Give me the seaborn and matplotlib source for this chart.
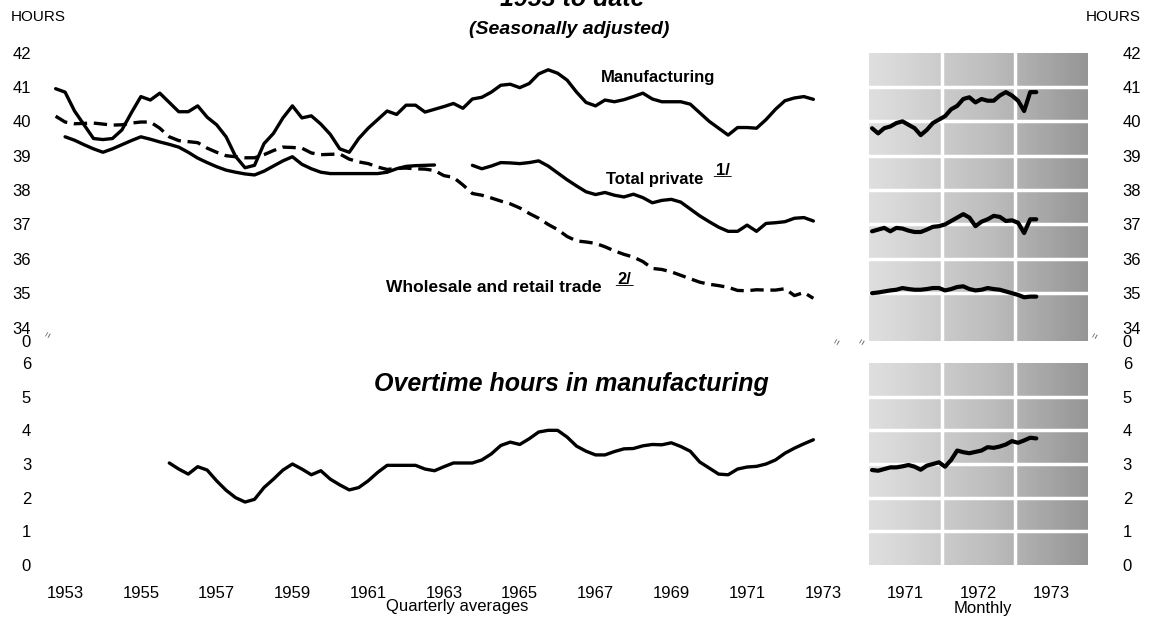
import numpy as np
import pandas as pd
import matplotlib.pyplot as plt
import seaborn as sns

# ---- quarterly averages, 1953 Q1 .. 1973 Q1 (hours) ----
mfg_q = [40.95, 40.85, 40.3,
         39.9, 39.5, 39.47, 39.5,
         39.75, 40.25, 40.72, 40.62,
         40.82, 40.55, 40.28, 40.28,
         40.45, 40.12, 39.9, 39.55,
         38.98, 38.65, 38.72, 39.35,
         39.65, 40.1, 40.45, 40.1,
         40.16, 39.92, 39.62, 39.2,
         39.1, 39.5, 39.8, 40.05,
         40.3, 40.2, 40.47, 40.47,
         40.27, 40.35, 40.43, 40.52,
         40.38, 40.65, 40.7, 40.85,
         41.05, 41.08, 40.98, 41.1,
         41.38, 41.5, 41.4, 41.2,
         40.85, 40.55, 40.45, 40.62,
         40.57, 40.63, 40.72, 40.82,
         40.65, 40.57, 40.57, 40.57,
         40.5, 40.25, 40.0, 39.8,
         39.6, 39.82, 39.82, 39.8,
         40.05, 40.35, 40.6, 40.68,
         40.72, 40.64]

tot_q = [np.nan, 39.55, 39.45,
         39.32, 39.2, 39.1, 39.2,
         39.32, 39.44, 39.55, 39.48,
         39.4, 39.33, 39.25, 39.1,
         38.93, 38.8, 38.68, 38.58,
         38.52, 38.47, 38.44, 38.55,
         38.7, 38.85, 38.97, 38.75,
         38.62, 38.52, 38.48, 38.48,
         38.48, 38.48, 38.48, 38.48,
         38.52, 38.62, 38.69, 38.71,
         38.72, 38.73, np.nan, np.nan,
         np.nan, 38.72, 38.62, 38.7,
         38.8, 38.79, 38.77, 38.8,
         38.85, 38.7, 38.5, 38.3,
         38.12, 37.95, 37.87, 37.93,
         37.85, 37.8, 37.88, 37.78,
         37.63, 37.7, 37.73, 37.65,
         37.45, 37.25, 37.08, 36.92,
         36.8, 36.8, 36.98, 36.8,
         37.03, 37.05, 37.08, 37.18,
         37.2, 37.1]

trade_q = [40.15, 39.98, 39.93,
           39.94, 39.95, 39.92, 39.89,
           39.9, 39.95, 39.98, 39.98,
           39.8, 39.55, 39.44, 39.41,
           39.38, 39.22, 39.1, 39.0,
           38.97, 38.94, 38.94, 39.03,
           39.15, 39.25, 39.24, 39.22,
           39.08, 39.03, 39.04, 39.05,
           38.9, 38.82, 38.77, 38.67,
           38.6, 38.63, 38.64, 38.62,
           38.61, 38.57, 38.42, 38.37,
           38.15, 37.9, 37.85, 37.77,
           37.68, 37.6, 37.48, 37.32,
           37.18, 37.0, 36.85, 36.65,
           36.52, 36.49, 36.45, 36.35,
           36.23, 36.13, 36.05, 35.92,
           35.72, 35.69, 35.62, 35.52,
           35.42, 35.32, 35.26, 35.22,
           35.17, 35.08, 35.07, 35.1,
           35.09, 35.09, 35.13, 34.93,
           35.02, 34.85]

# overtime hours in manufacturing, quarterly from 1956 Q1
ot_q = [3.03, 2.85, 2.7,
        2.92, 2.82, 2.5, 2.22,
        2.0, 1.87, 1.95, 2.3,
        2.55, 2.82, 3.0, 2.85,
        2.68, 2.8, 2.55, 2.38,
        2.23, 2.3, 2.5, 2.75,
        2.96, 2.96, 2.96, 2.96,
        2.85, 2.8, 2.92, 3.03,
        3.03, 3.03, 3.12, 3.3,
        3.55, 3.65, 3.58, 3.75,
        3.95, 4.0, 4.0, 3.8,
        3.53, 3.38, 3.27, 3.27,
        3.37, 3.45, 3.46, 3.54,
        3.58, 3.57, 3.63, 3.52,
        3.38, 3.06, 2.88, 2.7,
        2.68, 2.85, 2.91, 2.93,
        3.0, 3.12, 3.32, 3.47,
        3.6, 3.72]

# ---- monthly, Jan 1971 .. Apr 1973 ----
mfg_m = [39.8, 39.65, 39.8, 39.85, 39.95, 40.0, 39.9, 39.8, 39.6, 39.75, 39.95, 40.05,
         40.15, 40.35, 40.45, 40.65, 40.7, 40.55, 40.65, 40.6, 40.6, 40.75, 40.85, 40.75,
         40.6, 40.3, 40.85, 40.85]
tot_m = [36.8, 36.85, 36.9, 36.8, 36.9, 36.88, 36.82, 36.78, 36.78, 36.85, 36.93, 36.95,
         37.0, 37.1, 37.2, 37.3, 37.2, 36.95, 37.08, 37.15, 37.25, 37.22, 37.1, 37.12,
         37.05, 36.75, 37.15, 37.15]
trade_m = [35.0, 35.02, 35.05, 35.08, 35.1, 35.15, 35.12, 35.1, 35.1, 35.12, 35.15, 35.15,
           35.08, 35.12, 35.18, 35.2, 35.12, 35.08, 35.1, 35.15, 35.12, 35.1, 35.05, 35.0,
           34.95, 34.88, 34.9, 34.9]
ot_m = [2.82, 2.8, 2.85, 2.9, 2.9, 2.93, 2.97, 2.92, 2.83, 2.95, 3.0, 3.05,
        2.92, 3.12, 3.4, 3.35, 3.32, 3.36, 3.4, 3.5, 3.48, 3.52, 3.58, 3.68,
        3.63, 3.7, 3.78, 3.76]

years_q = [1953, 1955, 1957, 1959, 1961, 1963, 1965, 1967, 1969, 1971, 1973]
years_m = [1971, 1972, 1973]
hours_top = [34, 35, 36, 37, 38, 39, 40, 41, 42]
hours_bot = [0, 1, 2, 3, 4, 5, 6]

sns.set_style("white")
plain = ["Liberation Sans", "DejaVu Sans"]
narrow = ["Liberation Sans Narrow", "Liberation Sans", "DejaVu Sans"]
plt.rcParams["font.family"] = plain
plt.rcParams["text.color"] = "black"
plt.rcParams["xtick.color"] = "black"
plt.rcParams["ytick.color"] = "black"

# positions: quarterly points at end of each quarter, monthly at mid-month
xq = 1953 + np.arange(1, len(mfg_q) + 1) / 4
xot = 1956 + np.arange(1, len(ot_q) + 1) / 4
xm = 1971 + (np.arange(len(mfg_m)) + 0.5) / 12

df_q = pd.DataFrame({"x": xq, "mfg": mfg_q, "tot": tot_q, "trade": trade_q})
df_m = pd.DataFrame({"x": xm, "mfg": mfg_m, "tot": tot_m, "trade": trade_m, "ot": ot_m})
df_ot = pd.DataFrame({"x": xot, "ot": ot_q})

W, H = 1154, 634
fig = plt.figure(figsize=(W / 100, H / 100), dpi=100)


def box(x0, y0, x1, y1):
    # pixel box (top-left origin) -> figure fraction rect
    return [x0 / W, 1 - y1 / H, (x1 - x0) / W, (y1 - y0) / H]


ax_q1 = fig.add_axes(box(45, 52.6, 838, 341.3))
ax_q2 = fig.add_axes(box(45, 363, 838, 565))
ax_m1 = fig.add_axes(box(869, 52.6, 1088, 341.3))
ax_m2 = fig.add_axes(box(869, 363, 1088, 565))

lw_q, lw_m = 2.4, 3.0

# quarterly lines (total private has a break in 1963)
sns.lineplot(data=df_q, x="x", y="mfg", ax=ax_q1, color="black", lw=lw_q)
first = df_q[df_q["x"] <= 1963.3]
second = df_q[df_q["x"] >= 1964.2]
sns.lineplot(data=first, x="x", y="tot", ax=ax_q1, color="black", lw=lw_q)
sns.lineplot(data=second, x="x", y="tot", ax=ax_q1, color="black", lw=lw_q)
sns.lineplot(data=df_q, x="x", y="trade", ax=ax_q1, color="black", lw=lw_q,
             linestyle=(0, (4, 2)))
sns.lineplot(data=df_ot, x="x", y="ot", ax=ax_q2, color="black", lw=lw_q)

# monthly lines
for col, ax in [("mfg", ax_m1), ("tot", ax_m1), ("trade", ax_m1), ("ot", ax_m2)]:
    sns.lineplot(data=df_m, x="x", y=col, ax=ax, color="black", lw=lw_m, zorder=3)

# stippled background of the monthly panels (approximated by a grey ramp)
ramp = np.linspace(0.22, 0.5, 60)[None, :] * np.ones((20, 1))
for ax, (lo, hi), hrs in [(ax_m1, (33.6, 42), hours_top), (ax_m2, (0, 6), hours_bot)]:
    ax.imshow(ramp, extent=(1971, 1974, lo, hi), aspect="auto", cmap="Greys",
              vmin=0, vmax=1, zorder=0, interpolation="bilinear")
    for h in hrs[1:-1]:
        ax.axhline(h, color="white", lw=2.5, zorder=1)
    for y in years_m[1:]:
        ax.axvline(y, color="white", lw=2.5, zorder=1)

for ax in [ax_q1, ax_q2, ax_m1, ax_m2]:
    for s in ax.spines.values():
        s.set_visible(False)
    ax.grid(False)
    ax.set_xlabel("")
    ax.set_ylabel("")
    ax.tick_params(length=0, labelsize=12, colors="black")

for ax in [ax_q1, ax_q2]:
    ax.set_xlim(1952.97, 1973.9)
    ax.tick_params(axis="y", pad=10)
for ax in [ax_m1, ax_m2]:
    ax.set_xlim(1971, 1974)
    ax.yaxis.tick_right()
    ax.tick_params(axis="y", pad=25)

ax_q1.set_ylim(33.6, 42)
ax_m1.set_ylim(33.6, 42)
ax_q2.set_ylim(0, 6)
ax_m2.set_ylim(0, 6)

top_ticks = [33.6] + hours_top
top_labels = ["0"] + [str(h) for h in hours_top]
ax_q1.set_yticks(top_ticks, top_labels)
ax_m1.set_yticks(top_ticks, top_labels)
ax_q2.set_yticks(hours_bot, [str(h) for h in hours_bot])
ax_m2.set_yticks(hours_bot, [str(h) for h in hours_bot])

ax_q1.set_xticks([])
ax_m1.set_xticks([])
ax_q2.set_xticks([y + 0.5 for y in years_q], [str(y) for y in years_q])
ax_m2.set_xticks([y + 0.5 for y in years_m], [str(y) for y in years_m])
for ax in [ax_q2, ax_m2]:
    ax.tick_params(axis="x", pad=15)

# series labels
lab = dict(fontsize=12, fontweight="bold", family=narrow)
ax_q1.text(1969.15, 41.27, "Manufacturing", ha="center", va="center", **lab)
ax_q1.text(1969.05, 38.32, "Total private", ha="center", va="center", **lab)
ax_q1.text(1970.85, 38.45, "1/", ha="center", va="baseline", **lab)
ax_q1.text(1970.85, 38.45, "__", ha="center", va="baseline", **lab)
ax_q1.text(1964.82, 35.17, "Wholesale and retail trade", ha="center", va="center",
           fontsize=12.5, fontweight="bold", family=narrow)
ax_q1.text(1968.25, 35.27, "2/", ha="center", va="baseline", **lab)
ax_q1.text(1968.25, 35.27, "__", ha="center", va="baseline", **lab)
ax_q2.text(1961.65, 5.37, "Overtime hours in manufacturing", ha="left", va="center",
           fontsize=18, fontweight="bold", fontstyle="italic")

# axis break marks
for xp, yp in [(49, 335), (838, 342), (863, 342), (1096, 336)]:
    fig.text(xp / W, 1 - yp / H, "=", rotation=60, fontsize=7, ha="center", va="center",
             color="#555555")

# headings and footers
fig.text(38 / W, 1 - 17 / H, "HOURS", ha="center", va="center", fontsize=11)
fig.text(1113 / W, 1 - 17 / H, "HOURS", ha="center", va="center", fontsize=11)
fig.text(572 / W, 1 - 6 / H, "1953 to date", ha="center", va="baseline", fontsize=18,
         fontweight="bold", fontstyle="italic")
fig.text(569 / W, 1 - 30 / H, "(Seasonally adjusted)", ha="center", va="center",
         fontsize=14, fontweight="bold", fontstyle="italic")
fig.text(457 / W, 1 - 606 / H, "Quarterly averages", ha="center", va="center", fontsize=12)
fig.text(983 / W, 1 - 608 / H, "Monthly", ha="center", va="center", fontsize=12)

fig.savefig("out.png", dpi=100)
